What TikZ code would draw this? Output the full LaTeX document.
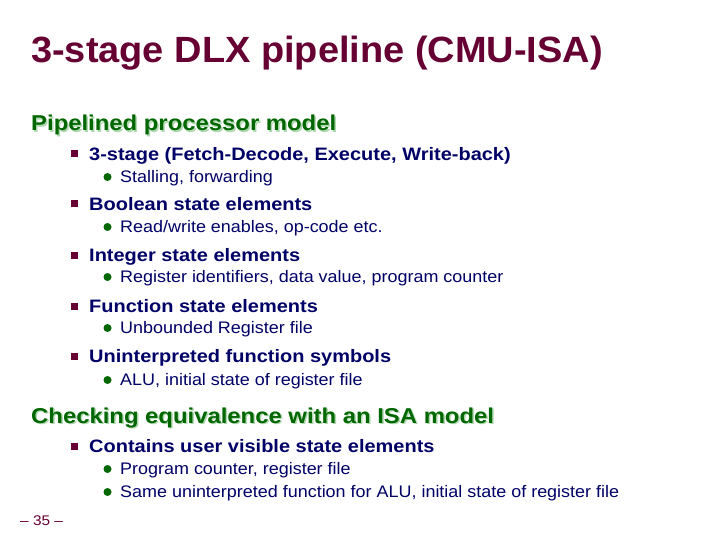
\documentclass[tikz,border=0pt]{standalone}
\usepackage{fontspec}
\setmainfont{Liberation Sans}
\newfontfamily\titlefont[FakeStretch=1.04]{Liberation Sans}
\newfontfamily\headfont[FakeStretch=1.11]{Liberation Sans}
\newfontfamily\lonefont[FakeStretch=1.11]{Liberation Sans}
\newfontfamily\ltwofont[FakeStretch=1.075]{Liberation Sans}
\newfontfamily\pnfont[FakeStretch=1.1]{Liberation Sans}
\definecolor{titlec}{HTML}{660033}
\definecolor{headc}{HTML}{006600}
\definecolor{shadc}{HTML}{B0D8B0}
\definecolor{textc}{HTML}{000066}
\definecolor{bulc}{HTML}{660033}
\definecolor{dotc}{HTML}{006600}
\tikzset{
  ttl/.style={anchor=base west, inner sep=0pt, text=titlec, font=\titlefont\bfseries\fontsize{36.5}{36.5}\selectfont},
  head/.style={anchor=base west, inner sep=0pt, text=headc, font=\headfont\bfseries\fontsize{21.5}{21.5}\selectfont},
  headshadow/.style={anchor=base west, inner sep=0pt, text=shadc, font=\headfont\bfseries\fontsize{21.5}{21.5}\selectfont},
  lone/.style={anchor=base west, inner sep=0pt, text=textc, font=\lonefont\bfseries\fontsize{18}{18}\selectfont},
  ltwo/.style={anchor=base west, inner sep=0pt, text=textc, font=\ltwofont\fontsize{16.7}{16.7}\selectfont},
  sqbul/.style={fill=bulc, minimum size=7, inner sep=0pt, draw=none, rectangle},
  dotbul/.style={fill=dotc, circle, minimum size=8, inner sep=0pt, draw=none},
  pagenum/.style={anchor=base west, inner sep=0pt, text=titlec, font=\pnfont\fontsize{14}{14}\selectfont}
}
\begin{document}
\begin{tikzpicture}[x=1pt,y=-1pt]
\useasboundingbox[fill=white] (0,0) rectangle (720,540);
\node[ttl] (title) at (31,63) {3-stage DLX pipeline (CMU-ISA)};
% heading 1
\node[headshadow] (h1s) at (32.5,132.5) {Pipelined processor model};
\node[head] (h1) at (31,131) {Pipelined processor model};
% items
\node[sqbul] (b1) at (74,154) {};
\node[lone] (t1) at (89,160.5) {3-stage (Fetch-Decode, Execute, Write-back)};
\node[dotbul] (d1) at (107.5,177) {};
\node[ltwo] (u1) at (120,182.5) {Stalling, forwarding};
\node[sqbul] (b2) at (74,204) {};
\node[lone] (t2) at (89,210.5) {Boolean state elements};
\node[dotbul] (d2) at (107.5,227) {};
\node[ltwo] (u2) at (120,232.5) {Read/write enables, op-code etc.};
\node[sqbul] (b3) at (74,255) {};
\node[lone] (t3) at (89,261.5) {Integer state elements};
\node[dotbul] (d3) at (107.5,277) {};
\node[ltwo] (u3) at (120,282.5) {Register identifiers, data value, program counter};
\node[sqbul] (b4) at (74,306) {};
\node[lone] (t4) at (89,312.5) {Function state elements};
\node[dotbul] (d4) at (107.5,328) {};
\node[ltwo] (u4) at (120,333.5) {Unbounded Register file};
\node[sqbul] (b5) at (74,356) {};
\node[lone] (t5) at (89,362.5) {Uninterpreted function symbols};
\node[dotbul] (d5) at (107.5,380) {};
\node[ltwo] (u5) at (120,385.5) {ALU, initial state of register file};
% heading 2
\node[headshadow] (h2s) at (32.5,424.5) {Checking equivalence with an ISA model};
\node[head] (h2) at (31,423) {Checking equivalence with an ISA model};
\node[sqbul] (b6) at (74,446) {};
\node[lone] (t6) at (89,452.5) {Contains user visible state elements};
\node[dotbul] (d6) at (107.5,469) {};
\node[ltwo] (u6) at (120,474.5) {Program counter, register file};
\node[dotbul] (d7) at (107.5,492) {};
\node[ltwo] (u7) at (120,497.5) {Same uninterpreted function for ALU, initial state of register file};
\node[pagenum] (pn) at (20,525) {– 35 –};
\end{tikzpicture}
\end{document}
